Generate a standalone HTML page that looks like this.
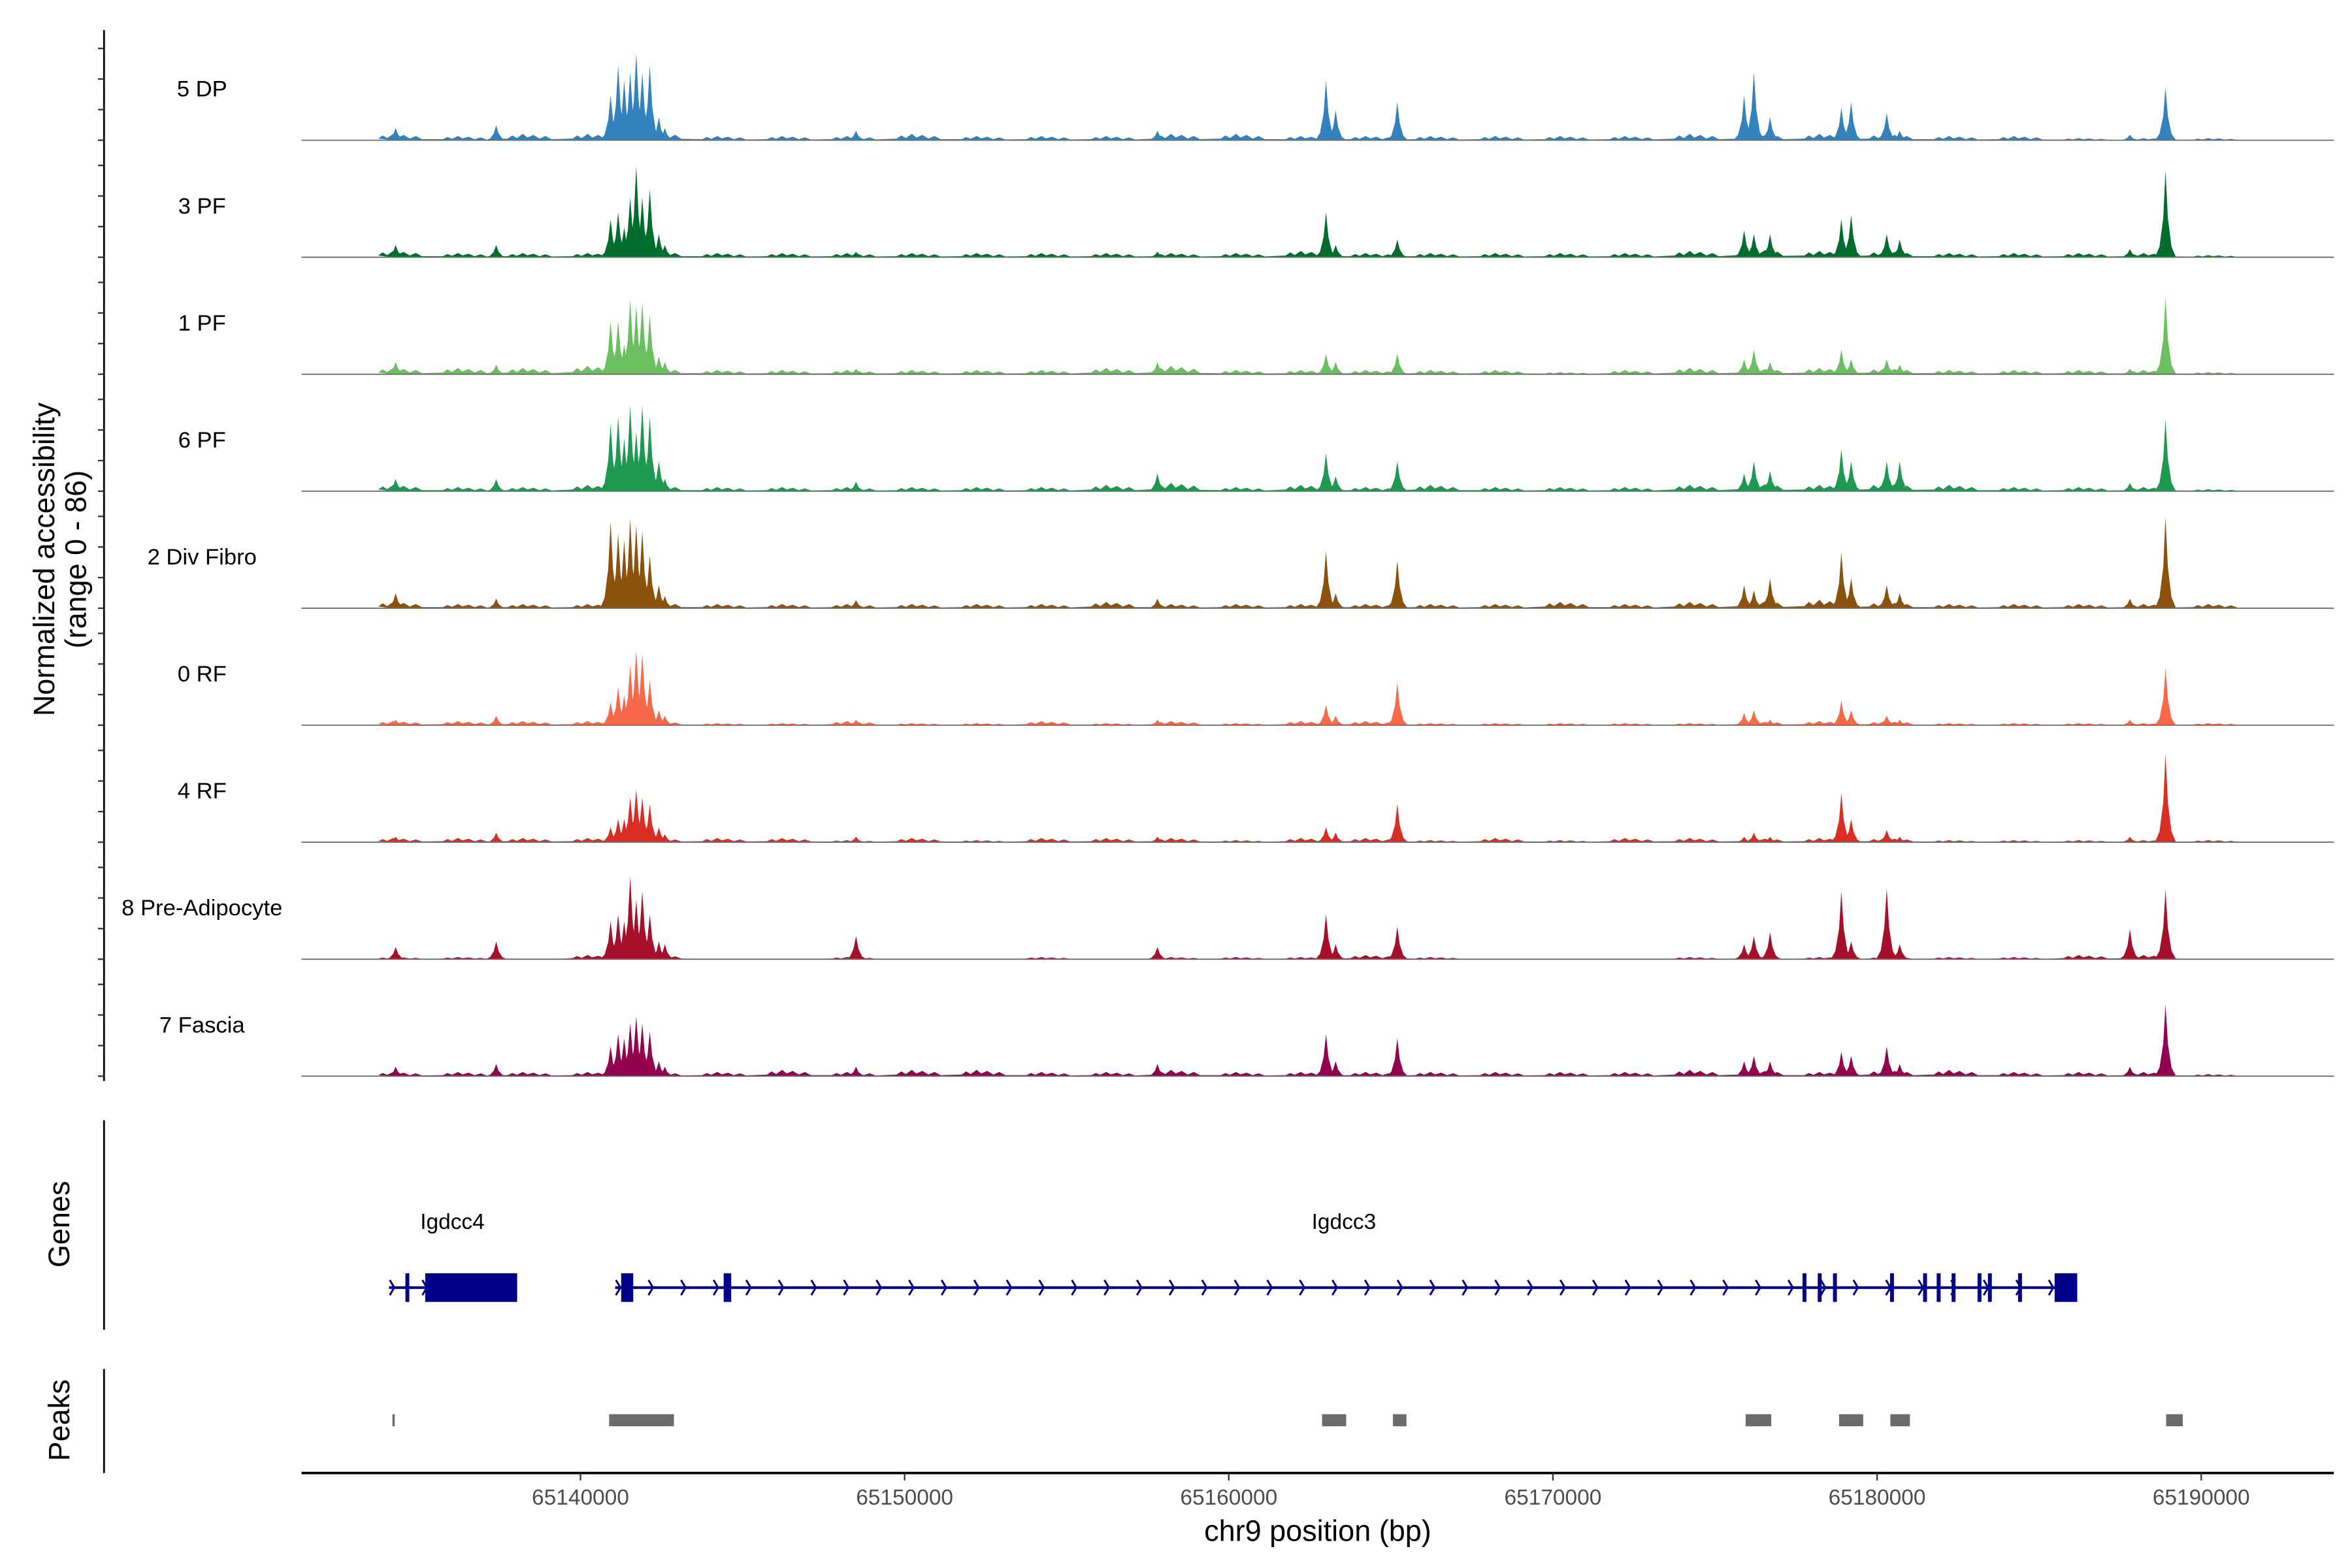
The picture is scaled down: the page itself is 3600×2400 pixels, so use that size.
<!DOCTYPE html>
<html><head><meta charset="utf-8"><style>
html,body{margin:0;padding:0;background:#fff}
svg{display:block}
text{font-family:"Liberation Sans",Arial,sans-serif}
</style></head><body>
<svg id="chart" xmlns="http://www.w3.org/2000/svg" width="3600" height="2400" viewBox="0 0 1560 1040">
<rect x="0" y="0" width="1560" height="1040" fill="#fff"/>
<g id="tracks"></g>
<g id="yaxis">
  <line x1="69" y1="20" x2="69" y2="717" stroke="#000" stroke-width="1.2"/>
</g>
<text transform="translate(36,371) rotate(-90)" text-anchor="middle" font-size="19.5">Normalized accessibility</text>
<text transform="translate(57,371) rotate(-90)" text-anchor="middle" font-size="19.5">(range 0 - 86)</text>
<g id="genes">
  <line x1="69" y1="743" x2="69" y2="882" stroke="#000" stroke-width="1.2"/>
  <text transform="translate(46,812) rotate(-90)" text-anchor="middle" font-size="19.5">Genes</text>
</g>
<g id="peaks">
  <line x1="69" y1="908" x2="69" y2="977" stroke="#000" stroke-width="1.2"/>
  <text transform="translate(46,942) rotate(-90)" text-anchor="middle" font-size="19.5">Peaks</text>
</g>
<g id="xaxis">
  <line x1="200" y1="977" x2="1548" y2="977" stroke="#000" stroke-width="1.6"/>
</g>
<text x="874" y="1022" text-anchor="middle" font-size="19.5">chr9 position (bp)</text>
</svg>
<script>
const trackNames = ["5 DP","3 PF","1 PF","6 PF","2 Div Fibro","0 RF","4 RF","8 Pre-Adipocyte","7 Fascia"];
const trackColors = ["#3182BD","#006D2C","#6ABF5E","#1E9951","#8C510A","#F8694A","#DA2E25","#A50F2A","#93024F"];
const peakBp = [65134300,65137400,65140930,65141163,65141349,65141535,65141721,65141907,65142139,65142418,65142604,65148500,65157800,65163000,65163300,65165200,65175900,65176200,65176700,65178900,65179200,65180300,65180700,65187800,65188900];
const vals5DP = [9,11,33,55,44,50,64,50,55,17,9,7,7,44,22,28,33,50,17,24,28,20,7,4,39];
const vals3PF = [9,9,28,33,22,44,67,44,50,17,9,4,4,33,9,13,20,17,17,28,31,17,13,6,64];
const vals1PF = [9,7,39,39,22,55,50,53,44,13,9,4,9,15,9,15,11,18,9,18,11,11,7,4,57];
const vals6PF = [9,9,50,55,39,63,44,63,55,22,9,7,13,28,11,22,13,22,15,31,22,22,22,6,53];
const vals2DF = [11,7,64,55,50,66,61,57,39,17,9,6,7,42,11,35,17,13,22,41,22,17,11,7,67];
const vals0RF = [4,7,17,28,22,44,55,53,33,11,7,4,4,15,7,31,9,11,4,18,11,7,4,4,42];
const vals4RF = [4,7,11,17,17,33,39,33,28,11,6,4,4,11,7,28,4,7,4,36,17,9,4,4,65];
const vals8PA = [9,13,28,33,28,61,44,50,33,13,11,17,9,33,11,24,11,17,20,50,13,52,11,22,51];
const vals7FA = [7,9,22,31,28,39,44,39,33,11,7,7,9,31,11,28,11,15,11,18,15,22,9,7,53];
const bgBp = [65134500,65136500,65138500,65140500,65142500,65144500,65146500,65148500,65150500,65152500,65154500,65156500,65158500,65160500,65162500,65164500,65166500,65168500,65170500,65172500,65174500,65176500,65178500,65180500,65182500,65184500,65186500,65188500,65190500];
const bg5DP = [3,2,3,3,4,2,2,2,3,2,2,2,3,3,2,2,2,2,2,2,3,3,3,3,2,2,1,1,1];
const bg3PF = [3,2,2,2,3,2,2,2,2,2,2,2,2,2,3,2,2,2,2,2,3,4,3,3,2,2,2,2,1];
const bg1PF = [3,3,3,4,3,2,2,2,2,2,2,3,4,2,2,2,2,2,1,2,3,3,3,3,2,2,2,2,1];
const bg6PF = [3,2,2,3,3,2,2,2,2,2,2,3,4,2,3,2,3,2,2,2,3,4,3,4,3,2,2,2,1];
const bg2DF = [3,2,2,2,3,2,2,2,2,2,2,3,2,2,2,2,2,2,3,2,3,4,4,3,2,2,2,2,2];
const bg0RF = [2,2,2,2,2,1,1,2,1,1,2,1,2,1,2,2,1,1,1,1,1,2,2,2,1,1,1,1,1];
const bg4RF = [2,2,2,2,2,2,2,1,2,1,2,2,2,1,2,2,1,2,1,2,2,2,2,2,1,1,1,1,1];
const bg8PA = [1,1,0,2,2,0,0,1,0,0,1,0,1,1,1,2,1,0,0,0,1,1,1,1,1,1,2,2,0];
const bg7FA = [2,2,2,2,2,2,3,2,3,3,2,2,3,2,2,2,2,2,2,2,3,3,2,3,3,2,2,2,1];
const peakValues = [vals5DP,vals3PF,vals1PF,vals6PF,vals2DF,vals0RF,vals4RF,vals8PA,vals7FA];
const bgValues = [bg5DP,bg3PF,bg1PF,bg6PF,bg2DF,bg0RF,bg4RF,bg8PA,bg7FA];
const xTicks = [65140000,65150000,65160000,65170000,65180000,65190000];
const xTickLabels = ["65140000","65150000","65160000","65170000","65180000","65190000"];
const peakRegionStart = [65134200,65140884,65162878,65165064,65175945,65178828,65180409,65188918];
const peakRegionEnd = [65134270,65142883,65163622,65165482,65176735,65179572,65181013,65189430];
const geneNames = ["Igdcc4","Igdcc3"];
const geneStart = [65134094,65141070];
const geneEnd = [65138047,65186175];
const geneLabelBp = [65136050,65163550];
const exonStart = [65134600,65135210,65141256,65144418,65177700,65178170,65178640,65180400,65181420,65181840,65182300,65183100,65183420,65184350,65185477];
const exonEnd = [65134720,65138047,65141628,65144650,65177820,65178290,65178760,65180520,65181540,65181960,65182420,65183220,65183540,65184470,65186175];

const NS = "http://www.w3.org/2000/svg";
function xScale(bp){ return 385 + (bp - 65140000) * 0.0215; }
const trackBase0 = 93, trackStep = 77.6, yPerUnit = 0.9;
function yScale(t, v){ return trackBase0 + t * trackStep - v * yPerUnit; }
function mk(tag, attrs, parent){ const e = document.createElementNS(NS, tag); for (const k in attrs) e.setAttribute(k, attrs[k]); parent.appendChild(e); return e; }

const tracksG = document.getElementById("tracks");
const yaxisG = document.getElementById("yaxis");
for (let t = 0; t < trackNames.length; t++) {
  const base = yScale(t, 0);
  const g = mk("g", {}, tracksG);
  
  
  let d = "M" + xScale(65134200) + "," + base;
  const bg = bgValues[t];
  for (let i = 0; i < bg.length; i++) {
    const xc = xScale(bgBp[i]);
    const v = bg[i] * 1.3;
    d += " L" + (xc - 16).toFixed(1) + "," + yScale(t, v * 0.3).toFixed(1);
    d += " L" + (xc - 13).toFixed(1) + "," + yScale(t, v * 0.9).toFixed(1);
    d += " L" + (xc - 10).toFixed(1) + "," + yScale(t, v * 0.4).toFixed(1);
    d += " L" + (xc - 6).toFixed(1) + "," + yScale(t, v * 1.2).toFixed(1);
    d += " L" + (xc - 3).toFixed(1) + "," + yScale(t, v * 0.5).toFixed(1);
    d += " L" + (xc + 1).toFixed(1) + "," + yScale(t, v).toFixed(1);
    d += " L" + (xc + 5).toFixed(1) + "," + yScale(t, v * 0.3).toFixed(1);
    d += " L" + (xc + 9).toFixed(1) + "," + yScale(t, v * 0.8).toFixed(1);
    d += " L" + (xc + 13).toFixed(1) + "," + yScale(t, v * 0.2).toFixed(1);
  }
  d += " L" + xScale(65191200) + "," + base + " Z";
  const bgp = mk("path", {d: d, fill: trackColors[t]}, g);
  
  
  const pv = peakValues[t];
  for (let i = 0; i < peakBp.length; i++) {
    const x = xScale(peakBp[i]), top = yScale(t, pv[i]), h = base - top;
    const pts = [[x - 7, base], [x - 4, base - h * 0.12], [x - 1.6, base - h * 0.45], [x, top], [x + 1.6, base - h * 0.45], [x + 4, base - h * 0.12], [x + 7, base]];
    const p = mk("polygon", {points: pts.map(q => q[0].toFixed(1) + "," + q[1].toFixed(1)).join(" "), fill: trackColors[t]}, g);
    
    
  }
  const bl = mk("line", {x1: 200, x2: 1548, y1: base, y2: base, stroke: "#6e6e6e", "stroke-width": 0.8}, g);
  
  
  const lab = mk("text", {x: 134, y: base - 29, "text-anchor": "middle", "font-size": "15"}, g);
  lab.textContent = trackNames[t];
  
  
  for (let k = 0; k < 4; k++) {
    const yy = base - k * 20.3;
    const tk = mk("line", {x1: 65, x2: 69, y1: yy, y2: yy, stroke: "#333", "stroke-width": 1}, yaxisG);
    
    
  }
}

const xaxisG = document.getElementById("xaxis");
for (let i = 0; i < xTicks.length; i++) {
  const x = xScale(xTicks[i]);
  const tk = mk("line", {x1: x, x2: x, y1: 977, y2: 982, stroke: "#333", "stroke-width": 1}, xaxisG);
  
  
  const tl = mk("text", {x: x, y: 998, "text-anchor": "middle", "font-size": "14.5", fill: "#4d4d4d"}, xaxisG);
  tl.textContent = xTickLabels[i];
  
  
}

const peaksG = document.getElementById("peaks");
for (let i = 0; i < peakRegionStart.length; i++) {
  const x1 = xScale(peakRegionStart[i]), x2 = xScale(peakRegionEnd[i]);
  const r = mk("rect", {x: x1, y: 938, width: Math.max(1.2, x2 - x1), height: 8, fill: "#6b6b6b"}, peaksG);
  
  
}

const genesG = document.getElementById("genes");
const gy = 854, navy = "#00008B";
for (let i = 0; i < geneNames.length; i++) {
  const x1 = xScale(geneStart[i]), x2 = xScale(geneEnd[i]);
  const ln = mk("line", {x1: x1, x2: x2, y1: gy, y2: gy, stroke: navy, "stroke-width": 1.8}, genesG);
  
  
  for (let x = x1 + 2; x < x2 - 2; x += 21.6) {
    const c = mk("polyline", {points: (x - 1.5) + "," + (gy - 5) + " " + (x + 1.5) + "," + gy + " " + (x - 1.5) + "," + (gy + 5), fill: "none", stroke: navy, "stroke-width": 1.3}, genesG);
    
    
  }
  const lt = mk("text", {x: xScale(geneLabelBp[i]), y: 815, "text-anchor": "middle", "font-size": "14.5"}, genesG);
  lt.textContent = geneNames[i];
  
  
}
for (let i = 0; i < exonStart.length; i++) {
  const x1 = xScale(exonStart[i]), x2 = xScale(exonEnd[i]);
  const r = mk("rect", {x: x1, y: gy - 9.5, width: x2 - x1, height: 19, fill: navy}, genesG);
  
  
}
</script>
</body></html>
